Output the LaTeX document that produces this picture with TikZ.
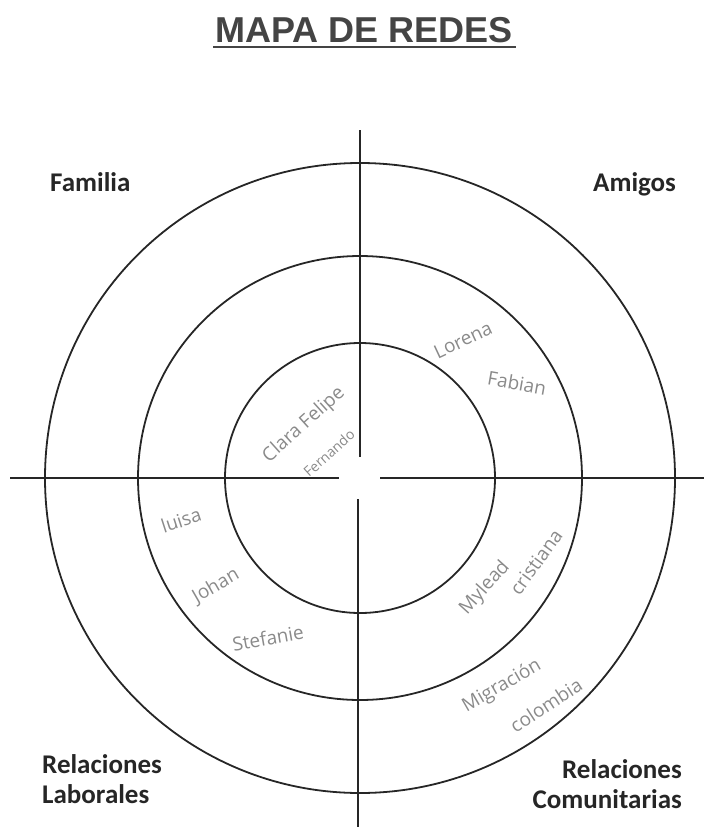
\documentclass[tikz,border=0pt]{standalone}
\usepackage{fontspec}
\setmainfont{Liberation Sans}
\newfontfamily\labelfont{Carlito}
\newfontfamily\titlefont{Liberation Sans}
\newfontfamily\handfont{Open Sans}
\definecolor{inkgray}{HTML}{444444}
\definecolor{pencil}{HTML}{8A8A8A}
\begin{document}
\begin{tikzpicture}[x=1pt,y=-1pt,
  ring/.style={draw=black!85,line width=1.8pt},
  axis/.style={draw=black!85,line width=1.8pt},
  sector/.style={font=\labelfont\bfseries\fontsize{27}{30}\selectfont,text=black!85,inner sep=0pt},
  hand/.style={font=\handfont\fontsize{19}{21}\selectfont,text=pencil,inner sep=0pt}]
\useasboundingbox (0,0) rectangle (704,827);
% title
\node[font=\titlefont\bfseries\fontsize{36}{38}\selectfont,text=inkgray,inner sep=0pt] (title) at (364,30) {MAPA DE REDES};
\coordinate (ulA) at (213,47);
\coordinate (ulB) at (516,47);
\draw[draw=inkgray,line width=2pt] (ulA) -- (ulB);
% circles
\coordinate (c) at (360,478);
\draw[ring] (c) circle[radius=315];
\draw[ring] (c) circle[radius=222];
\draw[ring] (c) circle[radius=135];
% axes
\coordinate (vt) at (360,130);
\coordinate (vtc) at (360,457);
\coordinate (vb) at (358,827);
\coordinate (vbc) at (358,499);
\coordinate (hl) at (10,478);
\coordinate (hlc) at (339,478);
\coordinate (hr) at (704,478);
\coordinate (hrc) at (380,478);
\draw[axis] (vt) -- (vtc);
\draw[axis] (vbc) -- (vb);
\draw[axis] (hl) -- (hlc);
\draw[axis] (hrc) -- (hr);
% sector labels
\node[sector,anchor=base west] (fam) at (50,191) {Familia};
\node[sector,anchor=base west] (ami) at (593,191) {Amigos};
\node[sector,anchor=base west] (rl1) at (42,773) {Relaciones};
\node[sector,anchor=base west] (rl2) at (42,803) {Laborales};
\node[sector,anchor=base east] (rc1) at (682,778) {Relaciones};
\node[sector,anchor=base east] (rc2) at (682,808) {Comunitarias};
% handwritten names
\node[hand,rotate=42] (clara) at (304,425) {Clara Felipe};
\node[hand,rotate=42,font=\handfont\fontsize{14}{16}\selectfont] (fer) at (329,453) {Fernando};
\node[hand,rotate=25] (lor) at (463,340) {Lorena};
\node[hand,rotate=-10] (fab) at (517,383) {Fabian};
\node[hand,rotate=18] (lui) at (181,520) {luisa};
\node[hand,rotate=30] (joh) at (216,586) {Johan};
\node[hand,rotate=10] (ste) at (268,638) {Stefanie};
\node[hand,rotate=48] (myl) at (485,588) {Mylead};
\node[hand,rotate=54] (cri) at (536,562) {cristiana};
\node[hand,rotate=30] (mig) at (502,686) {Migración};
\node[hand,rotate=33] (col) at (546,705) {colombia};
\end{tikzpicture}
\end{document}
